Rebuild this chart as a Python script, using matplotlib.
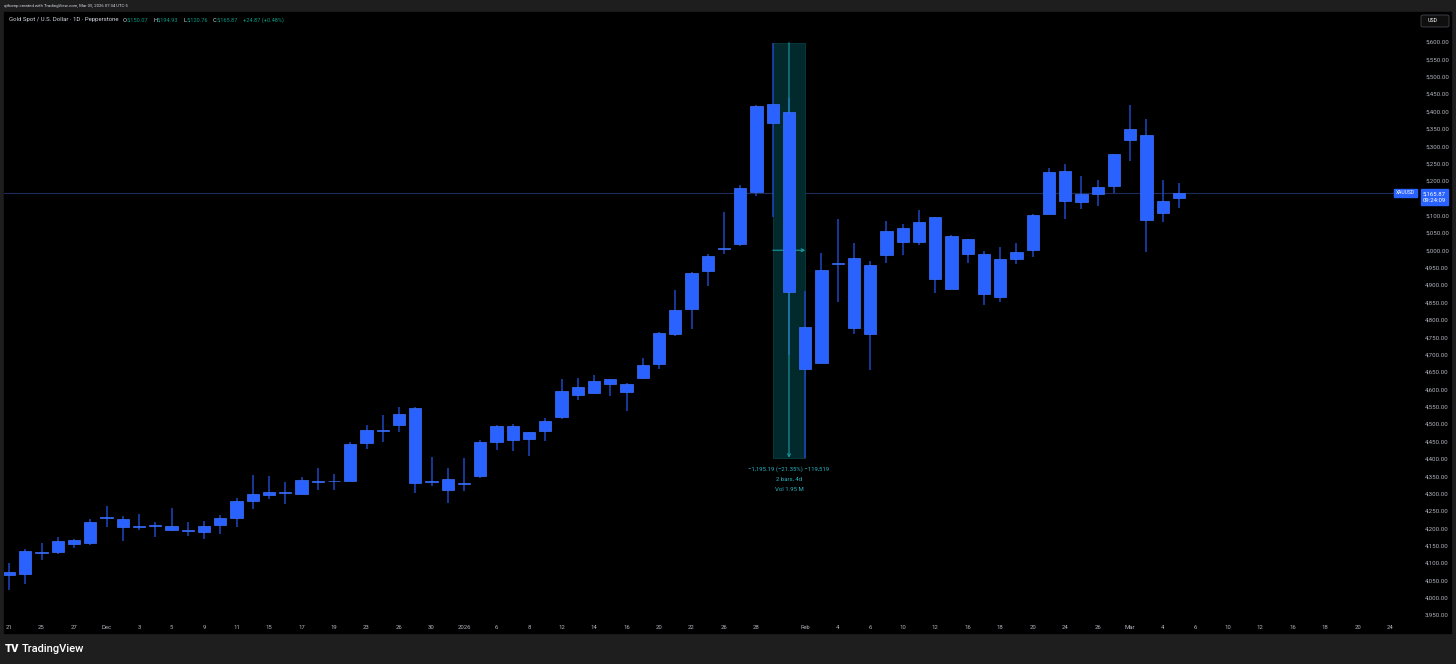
import matplotlib
matplotlib.use('Agg')
import matplotlib.pyplot as plt
from matplotlib.patches import Rectangle, FancyBboxPatch

# daily bars, XAUUSD (Pepperstone)
dates = ['Nov 21', 'Nov 24', 'Nov 25', 'Nov 26', 'Nov 27', 'Nov 28',
         'Dec 1', 'Dec 2', 'Dec 3', 'Dec 4', 'Dec 5', 'Dec 8', 'Dec 9',
         'Dec 10', 'Dec 11', 'Dec 12', 'Dec 15', 'Dec 16', 'Dec 17',
         'Dec 18', 'Dec 19', 'Dec 22', 'Dec 23', 'Dec 24', 'Dec 26',
         'Dec 29', 'Dec 30', 'Dec 31', 'Jan 2', 'Jan 5', 'Jan 6', 'Jan 7',
         'Jan 8', 'Jan 9', 'Jan 12', 'Jan 13', 'Jan 14', 'Jan 15', 'Jan 16',
         'Jan 19', 'Jan 20', 'Jan 21', 'Jan 22', 'Jan 23', 'Jan 26',
         'Jan 27', 'Jan 28', 'Jan 29', 'Jan 30', 'Feb 2', 'Feb 3', 'Feb 4',
         'Feb 5', 'Feb 6', 'Feb 9', 'Feb 10', 'Feb 11', 'Feb 12', 'Feb 13',
         'Feb 16', 'Feb 17', 'Feb 18', 'Feb 19', 'Feb 20', 'Feb 23',
         'Feb 24', 'Feb 25', 'Feb 26', 'Feb 27', 'Mar 2', 'Mar 3', 'Mar 4',
         'Mar 5']
opens = [4074, 4067, 4132, 4131, 4165, 4157, 4228, 4227, 4203, 4206,
         4205, 4195, 4190, 4208, 4229, 4279, 4304, 4302, 4299, 4335,
         4335, 4337, 4445, 4484, 4497, 4547, 4334, 4342, 4328, 4350,
         4449, 4495, 4458, 4481, 4520, 4584, 4590, 4630, 4615, 4633,
         4674, 4760, 4830, 4942, 5004, 5019, 5169, 5421, 5398, 4780,
         4676, 4960, 4978, 4759, 4988, 5065, 5025, 5095, 4888, 5033,
         4990, 4867, 4976, 5001, 5106, 5229, 5138, 5162, 5186, 5319,
         5331, 5107, 5150.07]
highs = [4100, 4140, 4158, 4174, 4169, 4226, 4264, 4235, 4241, 4218,
         4259, 4218, 4221, 4238, 4286, 4353, 4350, 4334, 4347, 4374,
         4356, 4449, 4498, 4525, 4549, 4550, 4404, 4373, 4401, 4454,
         4498, 4500, 4476, 4517, 4629, 4633, 4640, 4630, 4619, 4690,
         4765, 4887, 4939, 4989, 5110, 5188, 5418, 5598.0, 5440, 4884,
         4992, 5090, 5022, 4970, 5085, 5077, 5116, 5097, 5044, 5033,
         4999, 5010, 5021, 5105, 5236, 5248, 5214, 5204, 5278, 5418,
         5378, 5204, 5194.93]
lows = [4022, 4040, 4108, 4127, 4143, 4151, 4204, 4163, 4195, 4176,
        4193, 4178, 4170, 4183, 4204, 4256, 4285, 4270, 4299, 4309,
        4309, 4337, 4429, 4447, 4478, 4302, 4322, 4274, 4308, 4345,
        4425, 4422, 4407, 4452, 4514, 4569, 4587, 4580, 4537, 4629,
        4659, 4754, 4773, 4898, 4990, 5014, 5157, 5097, 4700, 4402.81,
        4676, 4852, 4758, 4655, 4964, 4987, 5016, 4878, 4888, 4964,
        4842, 4852, 4960, 4981, 5106, 5091, 5120, 5128, 5166, 5258,
        4995, 5083, 5120.76]
closes = [4065, 4134, 4130, 4163, 4155, 4218, 4231, 4204, 4206, 4209,
          4196, 4192, 4206, 4228, 4278, 4299, 4295, 4305, 4338, 4333,
          4337, 4442, 4484, 4481, 4530, 4330, 4337, 4310, 4331, 4447,
          4494, 4455, 4476, 4509, 4596, 4606, 4624, 4614, 4593, 4669,
          4762, 4829, 4935, 4984, 5008, 5180, 5416, 5368, 4879, 4658,
          4944, 4963, 4777, 4959, 5056, 5023, 5082, 4918, 5041, 4990,
          4875, 4975, 4995, 5102, 5226, 5141, 5162, 5183, 5278, 5350,
          5087, 5141.00, 5165.87]

tick_pos = [0, 2, 4, 6, 8, 10, 12, 14, 16, 18, 20, 22, 24, 26, 28, 30, 32,
            34, 36, 38, 40, 42, 44, 46, 49, 51, 53, 55, 57, 59, 61, 63, 65,
            67, 69, 71, 73, 75, 77, 79, 81, 83, 85]
tick_labels = ['21', '25', '27', 'Dec', '3', '5', '9', '11', '15', '17',
               '19', '23', '26', '30', '2026', '6', '8', '12', '14', '16',
               '20', '22', '26', '28', 'Feb', '4', '6', '10', '12', '16',
               '18', '20', '24', '26', 'Mar', '4', '6', '10', '12', '16',
               '18', '20', '24']
price_ticks = list(range(3950, 5601, 50))

# price range tool: high of Jan 29 -> low of Feb 2
meas_from, meas_to = 47, 49
meas_days = '4d'
meas_vol = 'Vol 1.95 M'
timer = '09:24:09'

BODY = '#2962ff'
WICK = '#1f47c2'
TEAL = '#1b9aa3'
LBL = '#b2b5be'
W, H = 1456, 664

def fx(px):
    return px / W

def fy(py):
    return 1 - py / H

def money(v):
    return f'{v:,.2f}'.replace('-', '\u2212')

plt.rcParams['font.family'] = ['Roboto', 'DejaVu Sans']
fig = plt.figure(figsize=(W / 100, H / 100), dpi=100, facecolor='#1e1e1e')
fig.patches.append(Rectangle((fx(4), fy(633)), fx(1451) - fx(4), fy(12) - fy(633),
                             transform=fig.transFigure, color='black', zorder=-5))

ax = fig.add_axes([fx(4), fy(620), fx(1418) - fx(4), fy(12) - fy(620)])
ax.set_facecolor('black')
for s in ax.spines.values():
    s.set_visible(False)
ax.set_xlim(-0.31, 86.71)
ax.set_ylim(3935.7, 5686.4)

x = list(range(len(dates)))
bottoms = [min(o, c) for o, c in zip(opens, closes)]
heights = [max(abs(c - o), 2.0) for o, c in zip(opens, closes)]
ax.vlines(x, lows, highs, color=WICK, linewidth=1.1, zorder=2)
ax.bar(x, heights, bottom=bottoms, width=0.76, color=BODY,
       edgecolor='#3d72ff', linewidth=0.5, zorder=3)

# last price line + labels
last = closes[-1]
ax.axhline(last, color='#1c2d5c', linewidth=0.8, zorder=1)
ax.annotate(money(last) + '\n' + timer, xy=(1, last), xycoords=('axes fraction', 'data'),
            xytext=(11.8, -3), textcoords='offset points', ha='center', va='center',
            fontsize=4.3, color='white', linespacing=1.35, annotation_clip=False,
            bbox=dict(boxstyle='square,pad=0.35', fc=BODY, ec=BODY))
ax.annotate('XAUUSD', xy=(1, last), xycoords=('axes fraction', 'data'),
            xytext=(-9, 0), textcoords='offset points', ha='center', va='center',
            fontsize=3.6, color='white', annotation_clip=False,
            bbox=dict(boxstyle='square,pad=0.3', fc=BODY, ec=BODY))

# measurement box
hi = highs[meas_from]
lo = lows[meas_to]
mid = (meas_from + meas_to) / 2
ax.add_patch(Rectangle((meas_from, lo), meas_to - meas_from, hi - lo,
                       facecolor='#02292c', edgecolor='#0a3d42', linewidth=0.6, zorder=1))
ax.annotate('', xy=(mid, lo), xytext=(mid, hi),
            arrowprops=dict(arrowstyle='->', color=TEAL, lw=0.8, shrinkA=0, shrinkB=0,
                            mutation_scale=5), zorder=2.5)
ax.annotate('', xy=(meas_to, (hi + lo) / 2), xytext=(meas_from, (hi + lo) / 2),
            arrowprops=dict(arrowstyle='->', color=TEAL, lw=0.8, shrinkA=0, shrinkB=0,
                            mutation_scale=5), zorder=2.5)
diff = lo - hi
lines = [f'{money(diff)} ({diff / hi * 100:.2f}%) {diff * 100:,.0f}'.replace('-', '\u2212'),
         f'{meas_to - meas_from} bars, {meas_days}', meas_vol]
for i, t in enumerate(lines):
    ax.annotate(t, xy=(mid, lo), xytext=(0, -(8.5 + 7.2 * i)), textcoords='offset points',
                ha='center', va='center', fontsize=4.3, color='#2ab3c2')

# axes ticks (the one under the last-price tag is hidden, as on the chart)
ax.yaxis.tick_right()
ax.set_yticks(price_ticks)
ax.set_yticklabels(['' if abs(v - last) < 30 else money(v) for v in price_ticks])
ax.tick_params(axis='y', length=0, pad=22.3, labelsize=4.4, labelcolor=LBL)
for lab in ax.get_yticklabels():
    lab.set_horizontalalignment('right')
ax.set_xticks(tick_pos)
ax.set_xticklabels(tick_labels)
ax.tick_params(axis='x', length=0, pad=3.6, labelsize=4.3, labelcolor=LBL)

# header
fig.text(fx(4.3), fy(6.5), 'qthomp created with TradingView.com, Mar 05, 2026 07:34 UTC-5',
         fontsize=3.1, color='#d1d4dc', va='center')
fig.text(fx(9), fy(20), 'Gold Spot / U.S. Dollar \u00b7 1D \u00b7 Pepperstone',
         fontsize=4.3, color='#d1d4dc', va='center')
chg = closes[-1] - closes[-2]
GREEN = '#089981'
for px, lab, val in [(123, 'O', opens[-1]), (153, 'H', highs[-1]),
                     (183.3, 'L', lows[-1]), (212.5, 'C', closes[-1])]:
    fig.text(fx(px), fy(20), lab, fontsize=4.1, color='#d1d4dc', va='center')
    fig.text(fx(px + 3.7), fy(20), money(val), fontsize=4.1, color=GREEN, va='center')
fig.text(fx(242.7), fy(20), f'+{chg:.2f} (+{chg / closes[-2] * 100:.2f}%)',
         fontsize=4.1, color=GREEN, va='center')

# USD button
fig.patches.append(FancyBboxPatch((fx(1421), fy(27)), fx(1449) - fx(1421), fy(15) - fy(27),
                                  boxstyle='round,pad=0,rounding_size=0.002',
                                  transform=fig.transFigure, fc='#0f0f0f', ec='#434651',
                                  lw=0.6, zorder=1))
fig.text(fx(1428), fy(21), 'USD', fontsize=3.8, color='white', va='center')

# footer logo
fig.text(fx(5), fy(649), 'TV', fontsize=8, fontweight='black', color='white', va='center')
fig.text(fx(22), fy(649), 'TradingView', fontsize=8, fontweight='medium', color='white',
         va='center')

fig.savefig('out.png', dpi=100, facecolor=fig.get_facecolor())
